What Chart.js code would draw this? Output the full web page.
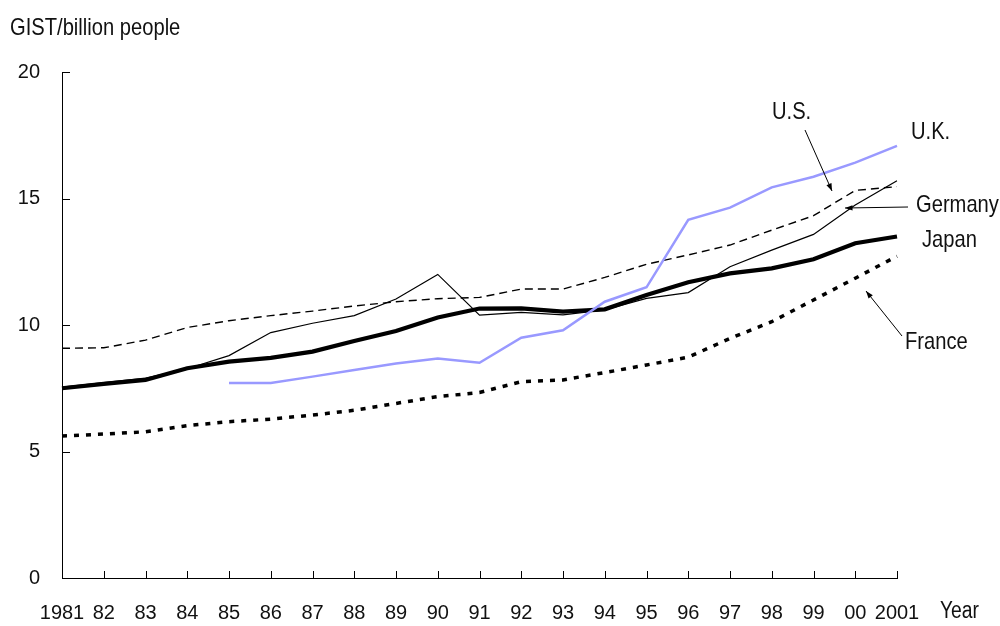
<!DOCTYPE html>
<html>
<head>
<meta charset="utf-8">
<title>GIST per billion people</title>
<script src="https://cdn.jsdelivr.net/npm/chart.js@4/dist/chart.umd.min.js"></script>
<style>
    html, body { margin: 0; padding: 0; background: #fff; }
    #wrap { width: 1000px; height: 626px; position: relative; }
</style>
</head>
<body>
<div id="wrap"><canvas id="chart"></canvas></div>
<script>
// Data
const years = ['1981', '82', '83', '84', '85', '86', '87', '88', '89', '90',
               '91', '92', '93', '94', '95', '96', '97', '98', '99', '00', '2001'];

const japan   = [7.5, 7.67, 7.83, 8.29, 8.55, 8.7, 8.95, 9.37, 9.76, 10.3,
                 10.65, 10.66, 10.53, 10.62, 11.19, 11.69, 12.04, 12.24, 12.6, 13.23, 13.5];
const germany = [7.55, 7.72, 7.9, 8.27, 8.79, 9.7, 10.07, 10.37, 11.03, 12.0,
                 10.39, 10.5, 10.4, 10.6, 11.05, 11.28, 12.3, 12.96, 13.58, 14.74, 15.7];
const us      = [9.08, 9.1, 9.4, 9.9, 10.17, 10.37, 10.55, 10.75, 10.92, 11.04,
                 11.09, 11.42, 11.42, 11.88, 12.4, 12.77, 13.16, 13.75, 14.32, 15.32, 15.47];
const uk      = [null, null, null, null, 7.71, 7.71, 7.96, 8.22, 8.48, 8.68,
                 8.51, 9.5, 9.79, 10.92, 11.49, 14.16, 14.64, 15.44, 15.86, 16.42, 17.08];
const france  = [5.61, 5.69, 5.78, 6.02, 6.18, 6.28, 6.44, 6.63, 6.9, 7.17,
                 7.33, 7.76, 7.83, 8.12, 8.42, 8.73, 9.47, 10.13, 10.99, 11.85, 12.72];

const yTicks = [0, 5, 10, 15, 20];

const FONT = "'Liberation Sans', Arial, sans-serif";

// narrow-looking text: regular sans squeezed horizontally
function narrowText(ctx, text, x, y, size) {
    const sx = 0.84;
    ctx.save();
    ctx.font = size + 'px ' + FONT;
    ctx.textBaseline = 'middle';
    ctx.textAlign = 'left';
    ctx.translate(x, y);
    ctx.scale(sx, 1);
    ctx.fillText(text, 0, 0);
    ctx.restore();
}

// inside tick marks, axis titles and series labels with arrows
const decorations = {
    id: 'decorations',
    afterDraw(chart) {
        const { ctx, chartArea: a, scales: { x, y } } = chart;
        ctx.save();
        ctx.strokeStyle = '#000';
        ctx.lineWidth = 1;

        // y ticks pointing into the plot
        yTicks.forEach(v => {
            const py = Math.round(y.getPixelForValue(v)) + 0.5;
            ctx.beginPath();
            ctx.moveTo(a.left, py);
            ctx.lineTo(a.left + 8, py);
            ctx.stroke();
        });
        // x ticks pointing up
        years.forEach((_, i) => {
            const px = Math.round(x.getPixelForValue(i)) + 0.5;
            ctx.beginPath();
            ctx.moveTo(px, a.bottom);
            ctx.lineTo(px, a.bottom - 7);
            ctx.stroke();
        });

        ctx.fillStyle = '#111';
        narrowText(ctx, 'GIST/billion people', 10, 28, 24);
        narrowText(ctx, 'Year', 940, 612, 23);

        // series labels
        narrowText(ctx, 'U.S.', 772, 112, 24);
        narrowText(ctx, 'U.K.', 911, 132, 24);
        narrowText(ctx, 'Germany', 916, 205, 24);
        narrowText(ctx, 'Japan', 922, 240, 24);
        narrowText(ctx, 'France', 905, 342, 24);

        const arrow = (x1, y1, x2, y2) => {
            ctx.beginPath();
            ctx.moveTo(x1, y1);
            ctx.lineTo(x2, y2);
            ctx.stroke();
            const ang = Math.atan2(y2 - y1, x2 - x1);
            const len = 8, w = 0.35;
            ctx.beginPath();
            ctx.moveTo(x2, y2);
            ctx.lineTo(x2 - len * Math.cos(ang - w), y2 - len * Math.sin(ang - w));
            ctx.lineTo(x2 - len * Math.cos(ang + w), y2 - len * Math.sin(ang + w));
            ctx.closePath();
            ctx.fill();
        };
        ctx.fillStyle = '#000';
        arrow(805, 130, 832, 191);
        arrow(908, 207, 845, 208);
        arrow(902, 336, 866, 291);

        ctx.restore();
    }
};

const ctx = document.getElementById('chart').getContext('2d');

new Chart(ctx, {
    type: 'line',
    data: {
        labels: years,
        datasets: [
            {
                label: 'U.K.',
                data: uk,
                borderColor: '#9999ff',
                borderWidth: 2.5
            },
            {
                label: 'Japan',
                data: japan,
                borderColor: '#000',
                borderWidth: 4.2
            },
            {
                label: 'Germany',
                data: germany,
                borderColor: '#000',
                borderWidth: 1.2
            },
            {
                label: 'U.S.',
                data: us,
                borderColor: '#000',
                borderWidth: 1.4,
                borderDash: [8, 5]
            },
            {
                label: 'France',
                data: france,
                borderColor: '#000',
                borderWidth: 3.5,
                borderDash: [5, 7]
            }
        ]
    },
    options: {
        responsive: true,
        maintainAspectRatio: false,
        animation: false,
        elements: {
            point: { radius: 0 },
            line: { tension: 0, fill: false, borderCapStyle: 'butt', borderJoinStyle: 'miter' }
        },
        layout: {
            padding: { top: 72, right: 103, bottom: 0, left: 0 }
        },
        plugins: {
            legend: { display: false },
            tooltip: { enabled: false }
        },
        scales: {
            x: {
                offset: false,
                border: { display: true, color: '#000', width: 1 },
                grid: { display: false, drawTicks: false },
                ticks: {
                    color: '#111',
                    font: { family: FONT, size: 20 },
                    padding: 23,
                    maxRotation: 0,
                    autoSkip: false
                },
                afterFit(scale) { scale.height = 48; }
            },
            y: {
                min: 0,
                max: 20,
                border: { display: true, color: '#000', width: 1 },
                grid: { display: false, drawTicks: false },
                ticks: {
                    stepSize: 5,
                    color: '#111',
                    font: { family: FONT, size: 20 },
                    padding: 22
                },
                afterFit(scale) { scale.width = 62; }
            }
        }
    },
    plugins: [decorations]
});
</script>
</body>
</html>
